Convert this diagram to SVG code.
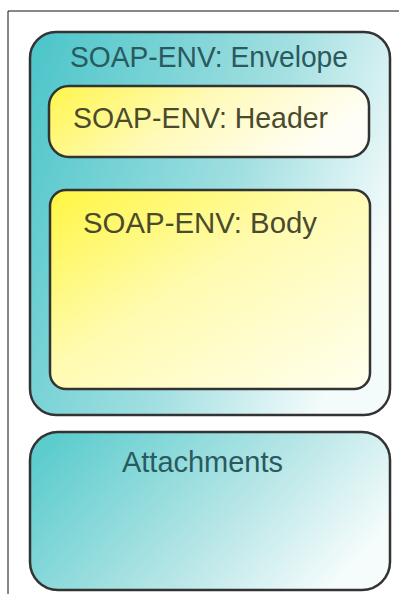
<svg xmlns="http://www.w3.org/2000/svg" width="399" height="594" viewBox="0 0 399 594">
  <defs>
    <linearGradient id="tealGrad" x1="0" y1="0.1" x2="1" y2="0.5">
      <stop offset="0" stop-color="#4ec6ca"/>
      <stop offset="0.6" stop-color="#a2dfe1"/>
      <stop offset="1" stop-color="#f4fbfb"/>
    </linearGradient>
    <linearGradient id="attachGrad" x1="0" y1="0.2" x2="1" y2="0.6">
      <stop offset="0" stop-color="#5ccccd"/>
      <stop offset="0.6" stop-color="#b8e6e7"/>
      <stop offset="1" stop-color="#f6fcfc"/>
    </linearGradient>
    <linearGradient id="headerGrad" x1="0" y1="0" x2="1" y2="0.3">
      <stop offset="0" stop-color="#fff64a"/>
      <stop offset="0.5" stop-color="#fffab8"/>
      <stop offset="1" stop-color="#fffef6"/>
    </linearGradient>
    <linearGradient id="bodyGrad" x1="0" y1="0" x2="1" y2="1">
      <stop offset="0" stop-color="#fff640"/>
      <stop offset="0.45" stop-color="#fffbb0"/>
      <stop offset="1" stop-color="#fffff0"/>
    </linearGradient>
  </defs>
  <style>
    .box { stroke: #333333; stroke-width: 2.5; }
    .lbl { font-family: "Liberation Sans", Arial, sans-serif; font-size: 29px; }
    .teal { fill: #2a5a5e; }
    .olive { fill: #4a4a2c; }
  </style>

  <rect width="399" height="594" fill="#ffffff"/>
  <!-- outer frame -->
  <path d="M8,594 V11 H399" fill="none" stroke="#111111" stroke-width="1"/>

  <g id="envelope">
    <rect class="box" x="30" y="32" width="360" height="383" rx="26" fill="url(#tealGrad)"/>
    <text class="lbl teal" x="70" y="67" textLength="278" lengthAdjust="spacingAndGlyphs">SOAP-ENV: Envelope</text>
  </g>

  <g id="header">
    <rect class="box" x="49" y="86" width="320" height="71" rx="20" fill="url(#headerGrad)"/>
    <text class="lbl olive" x="73" y="128" textLength="255" lengthAdjust="spacingAndGlyphs">SOAP-ENV: Header</text>
  </g>

  <g id="body">
    <rect class="box" x="50" y="190" width="320" height="199" rx="16" fill="url(#bodyGrad)"/>
    <text class="lbl olive" x="83" y="233" textLength="234" lengthAdjust="spacingAndGlyphs">SOAP-ENV: Body</text>
  </g>

  <g id="attachments">
    <rect class="box" x="30" y="432" width="360" height="158" rx="28" fill="url(#attachGrad)"/>
    <text class="lbl teal" x="122" y="472" textLength="161" lengthAdjust="spacingAndGlyphs">Attachments</text>
  </g>

  <g id="connectors"/>
</svg>
